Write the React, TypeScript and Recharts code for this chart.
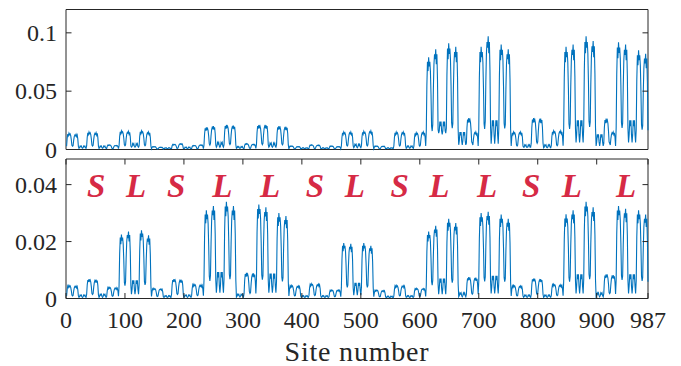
import { ComposedChart, Line, Scatter, XAxis, YAxis, ReferenceArea } from 'recharts';

// values in units of 1e-4, one per site, grouped by Fibonacci block (S = 55 sites, L = 89 sites)
const topS1 = [
  28, 98, 133, 119, 140, 126, 133, 119, 84, 35, 28, 33, 78, 111, 124, 117, 130, 111, 124, 91, 26,
  10, 15, 30, 24, 30, 15, 10, 15, 30, 24, 30, 15, 10,
  30, 105, 143, 128, 150, 135, 143, 128, 90, 38, 30, 36, 87, 123, 138, 131, 145, 123, 138, 102, 29,
];
const topL1 = [
  10, 15, 30, 24, 30, 15, 10, 15, 30, 24, 30, 15, 10,
  8, 28, 38, 34, 40, 36, 38, 34, 24, 10, 8, 9, 21, 30, 33, 32, 35, 30, 33, 25, 7,
  32, 112, 152, 136, 160, 144, 152, 136, 96, 40, 32, 39, 93, 132, 147, 140, 155, 132, 147, 109, 31,
  20, 25, 50, 40, 50, 25, 20, 25, 50, 40, 50, 25, 20,
  32, 112, 152, 136, 160, 144, 152, 136, 96, 40, 32, 38, 90, 128, 143, 135, 150, 128, 143, 105, 30,
];
const topS2 = [
  5, 18, 24, 21, 25, 23, 24, 21, 15, 6, 5, 5, 12, 17, 19, 18, 20, 17, 19, 14, 4,
  8, 8, 15, 12, 15, 8, 8, 8, 15, 12, 15, 8, 8,
  9, 32, 43, 38, 45, 41, 43, 38, 27, 11, 9, 13, 30, 43, 48, 45, 50, 43, 48, 35, 10,
];
const topL2 = [
  8, 10, 20, 16, 20, 10, 8, 10, 20, 16, 20, 10, 8,
  7, 25, 33, 30, 35, 32, 33, 30, 21, 9, 7, 10, 24, 34, 38, 36, 40, 34, 38, 28, 8,
  38, 133, 181, 162, 190, 171, 181, 162, 114, 48, 38, 50, 120, 170, 190, 180, 200, 170, 190, 140, 40,
  20, 30, 60, 48, 60, 30, 20, 30, 60, 48, 60, 30, 20,
  42, 147, 200, 179, 210, 189, 200, 179, 126, 53, 42, 51, 123, 174, 195, 185, 205, 174, 195, 144, 41,
];
const topL3 = [
  10, 13, 25, 20, 25, 13, 10, 13, 25, 20, 25, 13, 10,
  10, 35, 48, 43, 50, 45, 48, 43, 30, 13, 10, 11, 27, 38, 43, 41, 45, 38, 43, 32, 9,
  42, 147, 200, 179, 210, 189, 200, 179, 126, 53, 42, 53, 126, 179, 200, 189, 210, 179, 200, 147, 42,
  20, 28, 55, 44, 55, 28, 20, 28, 55, 44, 55, 28, 20,
  40, 140, 190, 170, 200, 180, 190, 170, 120, 50, 40, 49, 117, 166, 185, 176, 195, 166, 185, 137, 39,
];
const topS3 = [
  6, 21, 29, 26, 30, 27, 29, 26, 18, 8, 6, 6, 15, 21, 24, 23, 25, 21, 24, 18, 5,
  8, 8, 15, 12, 15, 8, 8, 8, 15, 12, 15, 8, 8,
  8, 28, 38, 34, 40, 36, 38, 34, 24, 10, 8, 10, 23, 32, 36, 34, 38, 32, 36, 27, 8,
];
const topL4 = [
  8, 8, 15, 12, 15, 8, 8, 8, 15, 12, 15, 8, 8,
  6, 21, 29, 26, 30, 27, 29, 26, 18, 8, 6, 6, 15, 21, 24, 23, 25, 21, 24, 18, 5,
  30, 105, 143, 128, 150, 135, 143, 128, 90, 38, 30, 38, 90, 128, 143, 135, 150, 128, 143, 105, 30,
  15, 23, 45, 36, 45, 23, 15, 23, 45, 36, 45, 23, 15,
  31, 109, 147, 132, 155, 140, 147, 132, 93, 39, 31, 40, 96, 136, 152, 144, 160, 136, 152, 112, 32,
];
const topS4 = [
  6, 21, 29, 26, 30, 27, 29, 26, 18, 8, 6, 7, 17, 24, 27, 25, 28, 24, 27, 20, 6,
  8, 8, 15, 12, 15, 8, 8, 8, 15, 12, 15, 8, 8,
  30, 105, 143, 128, 150, 135, 143, 128, 90, 38, 30, 38, 90, 128, 143, 135, 150, 128, 143, 105, 30,
];
const topL5 = [
  10, 15, 30, 24, 30, 15, 10, 15, 30, 24, 30, 15, 10,
  29, 102, 138, 123, 145, 131, 138, 123, 87, 36, 29, 38, 90, 128, 143, 135, 150, 128, 143, 105, 30,
  158, 553, 751, 672, 790, 711, 751, 672, 474, 198, 158, 215, 516, 731, 817, 774, 860, 731, 817, 602, 172,
  140, 160, 240, 200, 240, 160, 130, 160, 240, 200, 240, 160, 140,
  182, 637, 865, 774, 910, 819, 865, 774, 546, 228, 182, 220, 528, 748, 836, 792, 880, 748, 836, 616, 176,
];
const topL6 = [
  40, 75, 150, 120, 150, 75, 40, 75, 150, 120, 150, 75, 40,
  54, 189, 257, 230, 270, 243, 257, 230, 162, 68, 54, 38, 90, 128, 143, 135, 150, 128, 143, 105, 30,
  176, 616, 836, 748, 880, 792, 836, 748, 528, 220, 176, 243, 582, 825, 922, 873, 970, 825, 922, 679, 194,
  50, 125, 250, 200, 250, 125, 50, 125, 250, 200, 250, 125, 50,
  180, 630, 855, 765, 900, 810, 855, 765, 540, 225, 180, 215, 516, 731, 817, 774, 860, 731, 817, 602, 172,
];
const topS5 = [
  30, 105, 143, 128, 150, 135, 143, 128, 90, 38, 30, 38, 90, 128, 143, 135, 150, 128, 143, 105, 30,
  20, 20, 40, 32, 40, 20, 20, 20, 40, 32, 40, 20, 20,
  54, 189, 257, 230, 270, 243, 257, 230, 162, 68, 54, 66, 159, 225, 252, 239, 265, 225, 252, 186, 53,
];
const topL7 = [
  15, 20, 40, 32, 40, 20, 15, 20, 40, 32, 40, 20, 15,
  32, 112, 152, 136, 160, 144, 152, 136, 96, 40, 32, 40, 96, 136, 152, 144, 160, 136, 152, 112, 32,
  176, 616, 836, 748, 880, 792, 836, 748, 528, 220, 176, 225, 540, 765, 855, 810, 900, 765, 855, 630, 180,
  60, 125, 250, 200, 250, 125, 60, 125, 250, 200, 250, 125, 60,
  194, 679, 922, 825, 970, 873, 922, 825, 582, 243, 194, 233, 558, 791, 884, 837, 930, 791, 884, 651, 186,
];
const topL8 = [
  30, 65, 130, 104, 130, 65, 30, 65, 130, 104, 130, 65, 30,
  53, 186, 252, 225, 265, 239, 252, 225, 159, 66, 53, 38, 90, 128, 143, 135, 150, 128, 143, 105, 30,
  184, 644, 874, 782, 920, 828, 874, 782, 552, 230, 184, 225, 540, 765, 855, 810, 900, 765, 855, 630, 180,
  60, 125, 250, 200, 250, 125, 60, 125, 250, 200, 250, 125, 60,
  170, 595, 808, 723, 850, 765, 808, 723, 510, 213, 170, 205, 492, 697, 779, 738, 820, 697, 779, 574, 164,
];

const botS1 = [
  9, 32, 44, 39, 46, 41, 44, 39, 28, 12, 9, 11, 26, 37, 42, 40, 44, 37, 42, 31, 9,
  4, 6, 12, 10, 12, 6, 4, 6, 12, 10, 12, 6, 4,
  14, 48, 65, 58, 68, 61, 65, 58, 41, 17, 14, 17, 40, 56, 63, 59, 66, 56, 63, 46, 13,
];
const botL1 = [
  4, 8, 15, 12, 15, 8, 4, 8, 15, 12, 15, 8, 4,
  8, 28, 38, 34, 40, 36, 38, 34, 24, 10, 8, 10, 23, 32, 36, 34, 38, 32, 36, 27, 8,
  45, 158, 214, 191, 225, 203, 214, 191, 135, 56, 45, 59, 141, 200, 223, 212, 235, 200, 223, 165, 47,
  15, 32, 64, 51, 64, 32, 15, 32, 64, 51, 64, 32, 15,
  48, 168, 228, 204, 240, 216, 228, 204, 144, 60, 48, 56, 133, 189, 211, 200, 222, 189, 211, 155, 44,
];
const botS2 = [
  7, 25, 34, 31, 36, 32, 34, 31, 22, 9, 7, 9, 20, 29, 32, 31, 34, 29, 32, 24, 7,
  4, 5, 10, 8, 10, 5, 4, 5, 10, 8, 10, 5, 4,
  14, 48, 65, 58, 68, 61, 65, 58, 41, 17, 14, 17, 40, 56, 63, 59, 66, 56, 63, 46, 13,
];
const botL2 = [
  4, 6, 12, 10, 12, 6, 4, 6, 12, 10, 12, 6, 4,
  10, 35, 48, 43, 50, 45, 48, 43, 30, 13, 10, 12, 29, 41, 46, 43, 48, 41, 46, 34, 10,
  62, 217, 295, 264, 310, 279, 295, 264, 186, 78, 62, 81, 195, 276, 309, 293, 325, 276, 309, 228, 65,
  20, 47, 93, 74, 93, 47, 20, 47, 93, 74, 93, 47, 20,
  68, 238, 323, 289, 340, 306, 323, 289, 204, 85, 68, 81, 195, 276, 309, 293, 325, 276, 309, 228, 65,
];
const botL3 = [
  5, 8, 15, 12, 15, 8, 5, 8, 15, 12, 15, 8, 5,
  18, 63, 86, 77, 90, 81, 86, 77, 54, 23, 18, 22, 53, 75, 84, 79, 88, 75, 84, 62, 18,
  66, 231, 314, 281, 330, 297, 314, 281, 198, 83, 66, 80, 192, 272, 304, 288, 320, 272, 304, 224, 64,
  20, 44, 88, 70, 88, 44, 20, 44, 88, 70, 88, 44, 20,
  60, 210, 285, 255, 300, 270, 285, 255, 180, 75, 60, 73, 174, 247, 276, 261, 290, 247, 276, 203, 58,
];
const botS3 = [
  9, 32, 44, 39, 46, 41, 44, 39, 28, 12, 9, 11, 26, 37, 42, 40, 44, 37, 42, 31, 9,
  4, 5, 10, 8, 10, 5, 4, 5, 10, 8, 10, 5, 4,
  10, 36, 49, 44, 52, 47, 49, 44, 31, 13, 10, 13, 30, 43, 48, 45, 50, 43, 48, 35, 10,
];
const botL4 = [
  4, 5, 10, 8, 10, 5, 4, 5, 10, 8, 10, 5, 4,
  6, 21, 29, 26, 30, 27, 29, 26, 18, 8, 6, 8, 18, 26, 29, 27, 30, 26, 29, 21, 6,
  39, 137, 185, 166, 195, 176, 185, 166, 117, 49, 39, 48, 115, 163, 182, 173, 192, 163, 182, 134, 38,
  12, 28, 55, 44, 55, 28, 12, 28, 55, 44, 55, 28, 12,
  39, 137, 185, 166, 195, 176, 185, 166, 117, 49, 39, 46, 111, 157, 176, 167, 185, 157, 176, 130, 37,
];
const botS4 = [
  6, 21, 29, 26, 30, 27, 29, 26, 18, 8, 6, 7, 17, 24, 27, 25, 28, 24, 27, 20, 6,
  3, 4, 8, 6, 8, 4, 3, 4, 8, 6, 8, 4, 3,
  9, 32, 44, 39, 46, 41, 44, 39, 28, 12, 9, 11, 27, 38, 43, 41, 45, 38, 43, 32, 9,
];
const botL5 = [
  4, 5, 10, 8, 10, 5, 4, 5, 10, 8, 10, 5, 4,
  7, 25, 34, 31, 36, 32, 34, 31, 22, 9, 7, 9, 21, 30, 33, 32, 35, 30, 33, 25, 7,
  47, 165, 223, 200, 235, 212, 223, 200, 141, 59, 47, 64, 153, 217, 242, 230, 255, 217, 242, 179, 51,
  15, 35, 70, 56, 70, 35, 15, 35, 70, 56, 70, 35, 15,
  56, 196, 266, 238, 280, 252, 266, 238, 168, 70, 56, 66, 159, 225, 252, 239, 265, 225, 252, 186, 53,
];
const botL6 = [
  6, 10, 20, 16, 20, 10, 6, 10, 20, 16, 20, 10, 6,
  15, 53, 71, 64, 75, 68, 71, 64, 45, 19, 15, 18, 44, 62, 69, 66, 73, 62, 69, 51, 15,
  60, 210, 285, 255, 300, 270, 285, 255, 180, 75, 60, 76, 183, 259, 290, 275, 305, 259, 290, 214, 61,
  18, 40, 80, 64, 80, 40, 18, 40, 80, 64, 80, 40, 18,
  59, 207, 280, 251, 295, 266, 280, 251, 177, 74, 59, 70, 168, 238, 266, 252, 280, 238, 266, 196, 56,
];
const botS5 = [
  9, 32, 44, 39, 46, 41, 44, 39, 28, 12, 9, 11, 26, 37, 42, 40, 44, 37, 42, 31, 9,
  4, 6, 12, 10, 12, 6, 4, 6, 12, 10, 12, 6, 4,
  14, 49, 67, 60, 70, 63, 67, 60, 42, 18, 14, 17, 41, 58, 65, 61, 68, 58, 65, 48, 14,
];
const botL7 = [
  4, 6, 12, 10, 12, 6, 4, 6, 12, 10, 12, 6, 4,
  10, 35, 48, 43, 50, 45, 48, 43, 30, 13, 10, 12, 29, 41, 46, 43, 48, 41, 46, 34, 10,
  59, 207, 281, 252, 296, 266, 281, 252, 178, 74, 59, 78, 186, 264, 295, 279, 310, 264, 295, 217, 62,
  18, 43, 85, 68, 85, 43, 18, 43, 85, 68, 85, 43, 18,
  68, 238, 323, 289, 340, 306, 323, 289, 204, 85, 68, 80, 192, 272, 304, 288, 320, 272, 304, 224, 64,
];
const botL8 = [
  6, 10, 20, 16, 20, 10, 6, 10, 20, 16, 20, 10, 6,
  17, 60, 81, 72, 85, 77, 81, 72, 51, 21, 17, 21, 49, 70, 78, 74, 82, 70, 78, 57, 16,
  65, 228, 309, 276, 325, 293, 309, 276, 195, 81, 65, 79, 189, 268, 299, 284, 315, 268, 299, 221, 63,
  18, 43, 85, 68, 85, 43, 18, 43, 85, 68, 85, 43, 18,
  62, 217, 295, 264, 310, 279, 295, 264, 186, 78, 62, 74, 177, 251, 280, 266, 295, 251, 280, 207, 59,
];

const letterText = ['S', 'L', 'S', 'L', 'L', 'S', 'L', 'S', 'L', 'L', 'S', 'L', 'L'];
const letterSites = [51, 119, 187, 265, 346, 422, 490, 566, 633, 714, 789, 858, 950];

const xTicks = [0, 100, 200, 300, 400, 500, 600, 700, 800, 900, 987];
const topTicks = [0, 0.05, 0.1];
const botTicks = [0, 0.02, 0.04];

const topValues = [
  ...topS1, ...topL1, ...topS2, ...topL2, ...topL3, ...topS3, ...topL4,
  ...topS4, ...topL5, ...topL6, ...topS5, ...topL7, ...topL8,
];
const botValues = [
  ...botS1, ...botL1, ...botS2, ...botL2, ...botL3, ...botS3, ...botL4,
  ...botS4, ...botL5, ...botL6, ...botS5, ...botL7, ...botL8,
];

const topData = topValues.map((v, i) => ({ site: i + 1, v: v / 10000 }));
const botData = botValues.map((v, i) => ({ site: i + 1, v: v / 10000 }));
const letterData = letterSites.map((s, i) => ({ site: s, y: 0.0355, letter: letterText[i] }));

const AXIS = '#262626';
const BLUE = '#0072BD';
const RED = '#D62A45';
const FONT = 'Liberation Serif, DejaVu Serif, serif';

const LEFT = 66;
const RIGHT = 648;

const makeYTick = () => (props: any) => {
  const { y, payload } = props;
  return (
    <g>
      <line x1={LEFT} x2={LEFT + 5.5} y1={y} y2={y} stroke={AXIS} strokeWidth={1} />
      <line x1={RIGHT} x2={RIGHT - 5.5} y1={y} y2={y} stroke={AXIS} strokeWidth={1} />
      <text x={57} y={y} textAnchor="end" dominantBaseline="central" style={{ fontFamily: FONT, fontSize: 24 }} fill={AXIS}>
        {payload.value}
      </text>
    </g>
  );
};

const renderXTick = (props: any) => {
  const { x, payload } = props;
  return (
    <g>
      <line x1={x} x2={x} y1={146.5} y2={141} stroke={AXIS} strokeWidth={1} />
      <line x1={x} x2={x} y1={7} y2={12.5} stroke={AXIS} strokeWidth={1} />
      <text x={x} y={176} textAnchor="middle" style={{ fontFamily: FONT, fontSize: 24 }} fill={AXIS}>
        {payload.value}
      </text>
    </g>
  );
};

const renderLetter = (props: any) => {
  const { cx, cy, payload } = props;
  return (
    <text
      x={cx}
      y={cy}
      textAnchor="middle"
      style={{ fontFamily: FONT, fontSize: 33, fontWeight: 'bold', fontStyle: 'italic' }}
      fill={RED}
    >
      {payload.letter}
    </text>
  );
};

export default function App() {
  return (
    <div style={{ position: 'absolute', left: 0, top: 0, width: 681, height: 366, background: '#fff' }}>
      <div style={{ position: 'absolute', left: 0, top: 152 }}>
        <ComposedChart width={681} height={214} data={botData} margin={{ top: 7, right: 33, bottom: 0, left: 0 }}>
          <XAxis
            type="number"
            dataKey="site"
            domain={[0, 987]}
            ticks={xTicks}
            interval={0}
            height={67.5}
            tickLine={false}
            axisLine={false}
            tick={renderXTick}
            label={{
              value: 'Site number',
              position: 'insideBottom',
              offset: 5,
              style: { fontFamily: FONT, fontSize: 28, letterSpacing: 0.8, fill: AXIS },
            }}
          />
          <YAxis
            domain={[0, 0.049]}
            ticks={botTicks}
            interval={0}
            width={66}
            tickLine={false}
            axisLine={false}
            tick={makeYTick()}
          />
          <ReferenceArea x1={0} x2={987} y1={0} y2={0.049} fill="none" stroke={AXIS} strokeWidth={1} />
          <Line dataKey="v" type="linear" stroke={BLUE} strokeWidth={1.1} dot={false} isAnimationActive={false} />
          <Scatter data={letterData} dataKey="y" shape={renderLetter} isAnimationActive={false} />
        </ComposedChart>
      </div>
      <div style={{ position: 'absolute', left: 0, top: 0 }}>
        <ComposedChart width={681} height={165} data={topData} margin={{ top: 9.5, right: 33, bottom: 15.5, left: 0 }}>
          <XAxis type="number" dataKey="site" domain={[0, 987]} hide />
          <YAxis
            domain={[0, 0.12]}
            ticks={topTicks}
            interval={0}
            width={66}
            tickLine={false}
            axisLine={false}
            tick={makeYTick()}
          />
          <ReferenceArea x1={0} x2={987} y1={0} y2={0.12} fill="none" stroke={AXIS} strokeWidth={1} />
          <Line dataKey="v" type="linear" stroke={BLUE} strokeWidth={1.1} dot={false} isAnimationActive={false} />
        </ComposedChart>
      </div>
    </div>
  );
}
